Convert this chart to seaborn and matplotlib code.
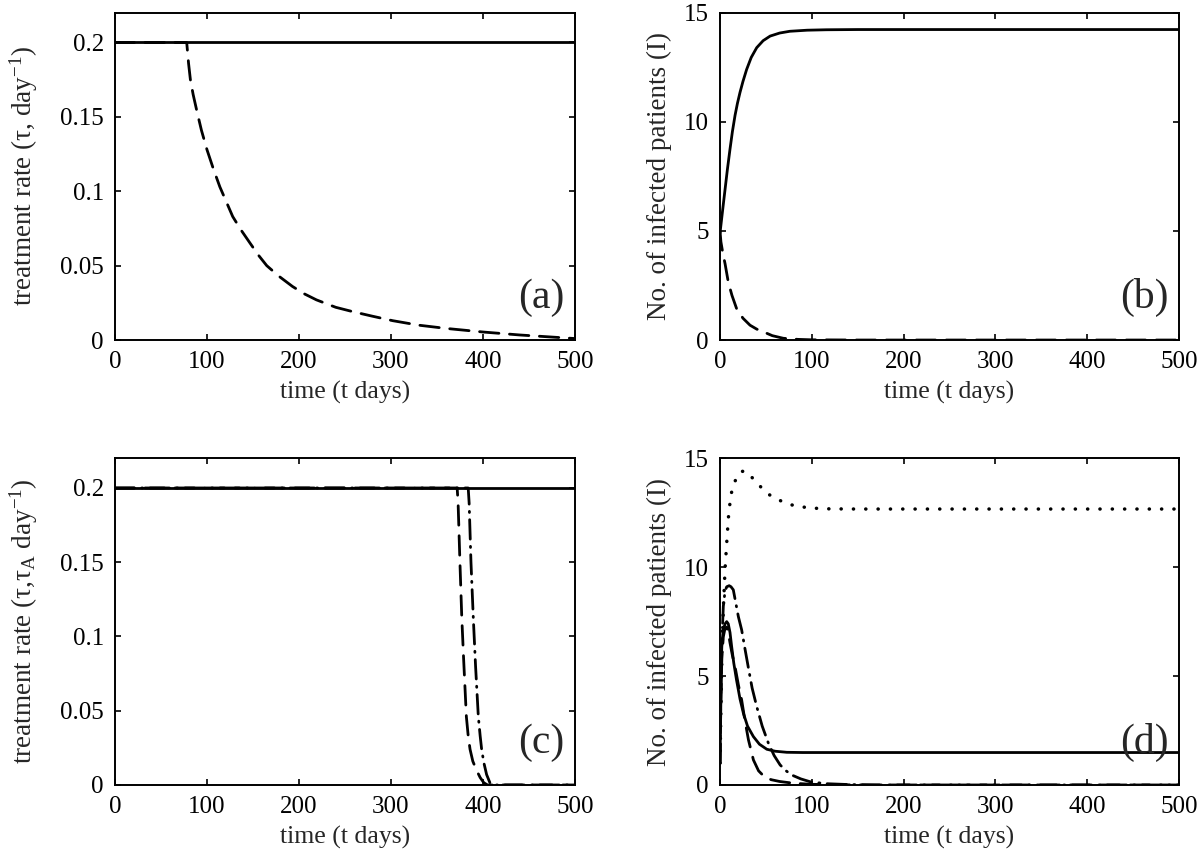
import numpy as np
import pandas as pd
import matplotlib
matplotlib.use("Agg")
import matplotlib.pyplot as plt
import seaborn as sns

# ---- data ----
# (a) treatment rate, constant vs. decaying
a_solid_t = [0, 500]
a_solid_v = [0.2, 0.2]
a_dash_t = [0, 78, 80, 82, 85, 89, 94, 100, 107, 114, 121, 128, 137, 147, 156, 165,
            178, 193, 206, 219, 240, 259, 280, 302, 330, 360, 400, 440, 470, 500]
a_dash_v = [0.2, 0.2, 0.186, 0.175, 0.165, 0.154, 0.141, 0.128, 0.115, 0.103, 0.093,
            0.083, 0.074, 0.065, 0.057, 0.050, 0.043, 0.036, 0.031, 0.027, 0.022,
            0.019, 0.016, 0.013, 0.010, 0.0078, 0.0054, 0.0034, 0.0022, 0.0010]

# (b) infected patients
b_solid_t = [0, 3, 5.5, 8, 10.9, 13.5, 16.4, 19, 21.8, 25, 29, 34, 40, 47, 54.6,
             65, 76, 95, 116, 150, 500]
b_solid_v = [4.9, 6.0, 6.9, 7.8, 8.75, 9.55, 10.3, 10.85, 11.35, 11.85, 12.4, 12.95,
             13.4, 13.72, 13.93, 14.07, 14.15, 14.2, 14.22, 14.23, 14.23]
b_dash_t = [0, 1, 3, 5.5, 9, 13, 18, 25, 32.7, 40, 47, 57, 69, 85, 100, 150, 500]
b_dash_v = [5.0, 4.5, 4.0, 3.5, 2.66, 2.05, 1.45, 1.0, 0.68, 0.5, 0.38, 0.2, 0.08,
            0.03, 0.01, 0.0, 0.0]

# (c) treatment rates with switch-off
c_solid_t = [0, 500]
c_solid_v = [0.2, 0.2]
c_dash_t = [0, 372, 373, 375, 377, 379, 382, 384, 386, 389, 393, 397, 401, 405, 500]
c_dash_v = [0.2, 0.2, 0.19, 0.15, 0.113, 0.085, 0.046, 0.033, 0.024, 0.016, 0.010,
            0.005, 0.0015, 0.0, 0.0]
c_dd_t = [0, 384, 385, 387, 389.5, 392, 395, 397, 398.6, 401, 404, 407.6, 412, 500]
c_dd_v = [0.2, 0.2, 0.19, 0.15, 0.113, 0.08, 0.046, 0.033, 0.024, 0.015, 0.007,
          0.0015, 0.0, 0.0]

# (d) infected patients, four scenarios
d_solid_t = [0, 1, 1.8, 3.5, 5.5, 7.3, 9, 10.9, 12.7, 15, 18, 21.8, 25.5, 30, 36.4,
             43, 51, 60, 72.8, 90, 500]
d_solid_v = [1.0, 4.0, 6.35, 7.1, 7.4, 7.5, 7.4, 7.0, 6.35, 5.6, 4.82, 3.95, 3.29,
             2.7, 2.22, 1.87, 1.64, 1.55, 1.5, 1.49, 1.49]
d_dash_t = [0, 1, 2, 3.6, 5.5, 7.3, 9, 11, 13.5, 16.4, 20, 23.6, 27, 31, 36.4, 42,
            49, 56, 65, 80, 100, 130, 160, 500]
d_dash_v = [1.0, 4.0, 5.8, 6.8, 7.2, 7.25, 7.0, 6.5, 5.95, 5.43, 4.6, 3.9, 3.0, 2.07,
            1.15, 0.65, 0.35, 0.24, 0.16, 0.08, 0.03, 0.01, 0.0, 0.0]
d_dd_t = [0, 1, 2, 3.6, 5.5, 7.3, 10, 12, 14.5, 17, 20, 23.6, 27, 31, 35, 40, 46,
          52.7, 59, 65.5, 72, 78, 88, 98, 115, 140, 170, 500]
d_dd_v = [1.0, 4.5, 6.5, 8.2, 8.9, 9.1, 9.15, 9.1, 8.96, 8.4, 7.73, 7.12, 6.3, 5.36,
          4.45, 3.6, 2.7, 1.92, 1.35, 0.92, 0.65, 0.46, 0.28, 0.15, 0.06, 0.02, 0.0, 0.0]
d_dot_t = [0, 1, 2, 3.6, 5.5, 7.3, 9.1, 11.6, 14, 16.4, 20, 23.6, 28.4, 33, 38, 43,
           48.4, 54, 60, 66, 71.7, 78, 84.4, 97.5, 115, 150, 500]
d_dot_v = [1.0, 3.5, 5.8, 8.04, 9.9, 11.1, 12.25, 13.24, 13.7, 13.95, 14.25, 14.4,
           14.4, 14.2, 13.98, 13.75, 13.5, 13.32, 13.17, 13.05, 12.94, 12.86, 12.8,
           12.72, 12.68, 12.67, 12.67]

rate_ticks = [0, 0.05, 0.1, 0.15, 0.2]
rate_labels = ["0", "0.05", "0.1", "0.15", "0.2"]
count_ticks = [0, 5, 10, 15]
time_ticks = [0, 100, 200, 300, 400, 500]

# ---- style ----
sns.set_style("ticks")
plt.rcParams["font.family"] = ["Liberation Serif", "DejaVu Serif"]
plt.rcParams["mathtext.fontset"] = "custom"
plt.rcParams["mathtext.rm"] = "Liberation Serif"
plt.rcParams["mathtext.it"] = "Liberation Serif:italic"
plt.rcParams["axes.linewidth"] = 1.4
plt.rcParams["axes.edgecolor"] = "black"

LW = 2.0
SOLID = "-"
DASH = (0, (7.0, 3.8))
DASHDOT = (0, (7.0, 2.6, 0.4, 2.6))
DOT = (0, (0.05, 3.5))


def draw(ax, t, v, ls, lw=LW):
    df = pd.DataFrame({"t": t, "v": v})
    sns.lineplot(data=df, x="t", y="v", ax=ax, color="black", linewidth=lw,
                 linestyle=ls, errorbar=None, dash_capstyle="round")


def style_axes(ax, ylabel, yticks, ylabels, ylim, letter, ylabel_x):
    ax.set_xlim(0, 500)
    ax.set_ylim(*ylim)
    ax.set_xticks(time_ticks)
    ax.set_yticks(yticks)
    ax.set_yticklabels(ylabels)
    ax.tick_params(direction="in", length=4, width=1.2, top=True, right=True,
                   labelsize=18, colors="black")
    ax.tick_params(axis="x", pad=8)
    ax.tick_params(axis="y", pad=8)
    ax.set_xlabel("time (t days)", fontsize=18.5)
    ax.set_ylabel(ylabel, fontsize=19.5)
    ax.xaxis.set_label_coords(0.5, -0.125)
    ax.yaxis.set_label_coords(ylabel_x, 0.5)
    for s in ax.spines.values():
        s.set_visible(True)
        s.set_color("black")
    ax.text(0.978, 0.13, letter, transform=ax.transAxes, ha="right",
            va="center", fontsize=30)


fig = plt.figure(figsize=(12, 8.55), dpi=100)
ax_a = fig.add_axes([0.0958, 0.6023, 0.3833, 0.3828])
ax_b = fig.add_axes([0.6, 0.6023, 0.3825, 0.3828])
ax_c = fig.add_axes([0.0958, 0.0819, 0.3833, 0.3821])
ax_d = fig.add_axes([0.6, 0.0819, 0.3825, 0.3821])

draw(ax_a, a_solid_t, a_solid_v, SOLID)
draw(ax_a, a_dash_t, a_dash_v, DASH)
style_axes(ax_a, "treatment rate (τ, day$^{\\mathrm{-1}}$)", rate_ticks, rate_labels,
           (0, 0.22), "(a)", -0.163)

draw(ax_b, b_solid_t, b_solid_v, SOLID)
draw(ax_b, b_dash_t, b_dash_v, DASH)
style_axes(ax_b, "No. of infected patients (I)", count_ticks,
           [str(x) for x in count_ticks], (0, 15), "(b)", -0.105)

draw(ax_c, c_solid_t, c_solid_v, SOLID)
draw(ax_c, c_dash_t, c_dash_v, DASH)
draw(ax_c, c_dd_t, c_dd_v, DASHDOT)
style_axes(ax_c, "treatment rate (τ,τ$_{\\mathrm{A}}$ day$^{\\mathrm{-1}}$)", rate_ticks,
           rate_labels, (0, 0.22), "(c)", -0.163)

draw(ax_d, d_solid_t, d_solid_v, SOLID)
draw(ax_d, d_dash_t, d_dash_v, DASH)
draw(ax_d, d_dd_t, d_dd_v, DASHDOT)
draw(ax_d, d_dot_t, d_dot_v, DOT, lw=2.5)
style_axes(ax_d, "No. of infected patients (I)", count_ticks,
           [str(x) for x in count_ticks], (0, 15), "(d)", -0.105)

fig.savefig("out.png", dpi=100)
